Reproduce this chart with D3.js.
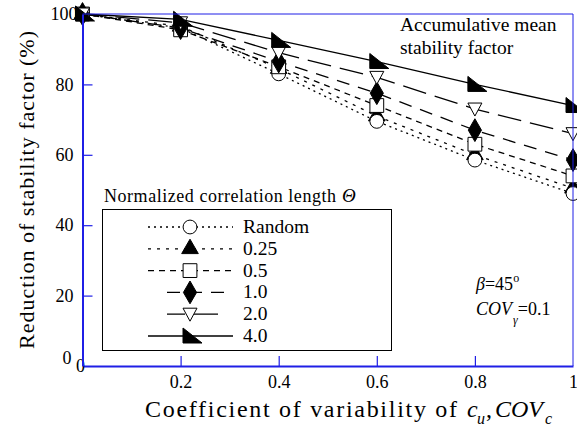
<!DOCTYPE html>
<html>
<head>
<meta charset="utf-8">
<script src="https://cdn.jsdelivr.net/npm/d3@7"></script>
<style>
  html, body { margin: 0; padding: 0; background: #fff; }
  svg { display: block; }
  svg text { font-family: "Liberation Serif", serif; }
</style>
</head>
<body>
<svg id="chart" width="577" height="436"></svg>
<script>
// Coefficient of variability of c_u (x values)
const covValues = [0, 0.2, 0.4, 0.6, 0.8, 1.0];

// Reduction of stability factor (%) for each normalized correlation length
const seriesLabels = ["Random", "0.25", "0.5", "1.0", "2.0", "4.0"];
const randomValues = [100, 96, 83, 69.5, 58.5, 49];
const theta025Values = [100, 96.5, 84.5, 71, 60, 50.5];
const theta05Values = [100, 95.5, 85, 74, 63, 54];
const theta10Values = [100, 96, 86.5, 77.5, 67, 58.5];
const theta20Values = [100, 97.5, 89, 82, 73, 66];
const theta40Values = [100, 98.5, 92.5, 86.5, 80, 74];

const xTicks = [0, 0.2, 0.4, 0.6, 0.8, 1];
const yTicks = [0, 20, 40, 60, 80, 100];

const AXIS_BLUE = "#1f1fe6";
const SERIF = "Liberation Serif, serif";

const svg = d3.select("#chart");
const x = d3.scaleLinear().domain([0, 1]).range([82.5, 573]);
const y = d3.scaleLinear().domain([0, 100]).range([366, 14]);

// Marker path generators
const sym = (type, size) => d3.symbol().type(type).size(size)();
const downTri = "M-7,-6L7,-6L0,7Z";
const rightTri = "M-7,-8L-7,7L12,7Z";

const series = [
  { label: seriesLabels[0], values: randomValues, dash: "2,4", marker: sym(d3.symbolCircle, 150), fill: "#fff" },
  { label: seriesLabels[1], values: theta025Values, dash: "3,6", marker: sym(d3.symbolTriangle, 120), fill: "#000" },
  { label: seriesLabels[2], values: theta05Values, dash: "6,5", marker: sym(d3.symbolSquare, 190), fill: "#fff" },
  { label: seriesLabels[3], values: theta10Values, dash: "13,9", marker: sym(d3.symbolDiamond, 150), fill: "#000" },
  { label: seriesLabels[4], values: theta20Values, dash: "24,9", marker: downTri, fill: "#fff" },
  { label: seriesLabels[5], values: theta40Values, dash: null, marker: rightTri, fill: "#000" }
];

// Lines
const line = d3.line().x((d, i) => x(covValues[i])).y(d => y(d));
const plot = svg.append("g");
series.forEach(s => {
  plot.append("path")
    .attr("d", line(s.values))
    .attr("fill", "none")
    .attr("stroke", "#000")
    .attr("stroke-width", 1.3)
    .attr("stroke-dasharray", s.dash);
});

// Markers: draw 0.25 first so the open circles sit over it
const markerOrder = [1, 0, 2, 3, 4, 5];
markerOrder.forEach(k => {
  const s = series[k];
  plot.selectAll(null)
    .data(s.values)
    .join("path")
    .attr("d", s.marker)
    .attr("transform", (d, i) => `translate(${x(covValues[i])},${y(d)})`)
    .attr("fill", s.fill)
    .attr("stroke", "#000")
    .attr("stroke-width", 1);
});

// Frame: top and right thin blue borders
svg.append("line").attr("x1", x(0)).attr("x2", x(1)).attr("y1", y(100)).attr("y2", y(100))
  .attr("stroke", AXIS_BLUE).attr("stroke-width", 1);
svg.append("line").attr("x1", x(1)).attr("x2", x(1)).attr("y1", y(100)).attr("y2", y(0))
  .attr("stroke", AXIS_BLUE).attr("stroke-width", 1);

const fmtX = d => (d === 0 || d === 1) ? String(d) : d.toFixed(1);

// Bottom axis with inward ticks
const xAxis = svg.append("g")
  .attr("transform", `translate(0,${y(0)})`)
  .call(d3.axisBottom(x).tickValues(xTicks).tickFormat(fmtX).tickSizeInner(-10).tickSizeOuter(0).tickPadding(9));
// Left axis with inward ticks
const yAxis = svg.append("g")
  .attr("transform", `translate(${x(0)},0)`)
  .call(d3.axisLeft(y).tickValues(yTicks).tickSizeInner(-10).tickSizeOuter(0).tickPadding(9));

[xAxis, yAxis].forEach(g => {
  g.attr("font-family", SERIF).attr("font-size", 18);
  g.select(".domain").attr("stroke", AXIS_BLUE).attr("stroke-width", 2);
  g.selectAll(".tick line").attr("stroke", AXIS_BLUE).attr("stroke-width", 1.2);
  g.selectAll(".tick text").attr("fill", "#000");
});
// Hide the inner ticks that fall on the frame corners
xAxis.selectAll(".tick").filter(d => d === 0 || d === 1).select("line").remove();
yAxis.selectAll(".tick").filter(d => d === 0 || d === 100).select("line").remove();
// Origin labels sit tucked into the corner
xAxis.selectAll(".tick").filter(d => d === 0).select("text").attr("y", -7).attr("x", -2.5);
yAxis.selectAll(".tick").filter(d => d === 0).select("text").attr("y", -8).attr("x", -11);
yAxis.selectAll(".tick").filter(d => d === 100).select("text").attr("x", -5);

// Axis titles
svg.append("text")
  .attr("transform", "translate(34,190) rotate(-90)")
  .attr("text-anchor", "middle")
  .attr("font-size", 22)
  .attr("textLength", 318)
  .attr("lengthAdjust", "spacing")
  .text("Reduction of stability factor (%)");

const xTitle = svg.append("g").attr("font-size", 24);
xTitle.append("text").attr("x", 145).attr("y", 417)
  .attr("textLength", 312).attr("lengthAdjust", "spacing")
  .text("Coefficient of variability of");
xTitle.append("text").attr("x", 467).attr("y", 417).attr("font-style", "italic").text("c");
xTitle.append("text").attr("x", 477).attr("y", 424).attr("font-style", "italic").attr("font-size", 16).text("u");
xTitle.append("text").attr("x", 486).attr("y", 417).text(",");
xTitle.append("text").attr("x", 495).attr("y", 417).attr("font-style", "italic").text("COV");
xTitle.append("text").attr("x", 545).attr("y", 424).attr("font-style", "italic").attr("font-size", 16).text("c");

// Annotation texts
svg.append("text").attr("x", 400).attr("y", 31).attr("font-size", 19.5).text("Accumulative mean");
svg.append("text").attr("x", 400).attr("y", 54).attr("font-size", 19.5).text("stability factor");

const b = svg.append("text").attr("x", 476).attr("y", 290).attr("font-size", 18);
b.append("tspan").attr("font-style", "italic").text("β");
b.append("tspan").text("=45");
b.append("tspan").attr("font-size", 12).attr("dy", -8).text("o");

const c = svg.append("text").attr("x", 476).attr("y", 315).attr("font-size", 18);
c.append("tspan").attr("font-style", "italic").text("COV");
c.append("tspan").attr("font-style", "italic").attr("font-size", 12).attr("dy", 9).attr("dx", 1).text("γ");
c.append("tspan").attr("dy", -9).text("=0.1");

// Legend
svg.append("text").attr("x", 104).attr("y", 202).attr("font-size", 18)
  .attr("textLength", 232).attr("lengthAdjust", "spacing")
  .text("Normalized correlation length");
svg.append("text").attr("x", 342).attr("y", 202).attr("font-size", 19)
  .attr("font-style", "italic").text("Θ");

svg.append("rect").attr("x", 102.5).attr("y", 209.5).attr("width", 289).attr("height", 141)
  .attr("fill", "none").attr("stroke", "#000").attr("stroke-width", 1);

const legendSpans = [[148, 233], [148, 233], [148, 233], [167, 227], [167, 227], [148, 233]];
const legendOffsets = [0, 0, 0, 0, 6, 0];
series.forEach((s, i) => {
  const cy = 227 + i * 21.8;
  const g = svg.append("g");
  g.append("line")
    .attr("x1", legendSpans[i][0]).attr("x2", legendSpans[i][1])
    .attr("y1", cy).attr("y2", cy)
    .attr("stroke", "#000").attr("stroke-width", 1.3)
    .attr("stroke-dasharray", s.dash)
    .attr("stroke-dashoffset", legendOffsets[i]);
  g.append("path").attr("d", s.marker)
    .attr("transform", `translate(190,${cy})`)
    .attr("fill", s.fill).attr("stroke", "#000");
  g.append("text").attr("x", 243).attr("y", cy + 6).attr("font-size", 19.5).text(s.label);
});
</script>
</body>
</html>
